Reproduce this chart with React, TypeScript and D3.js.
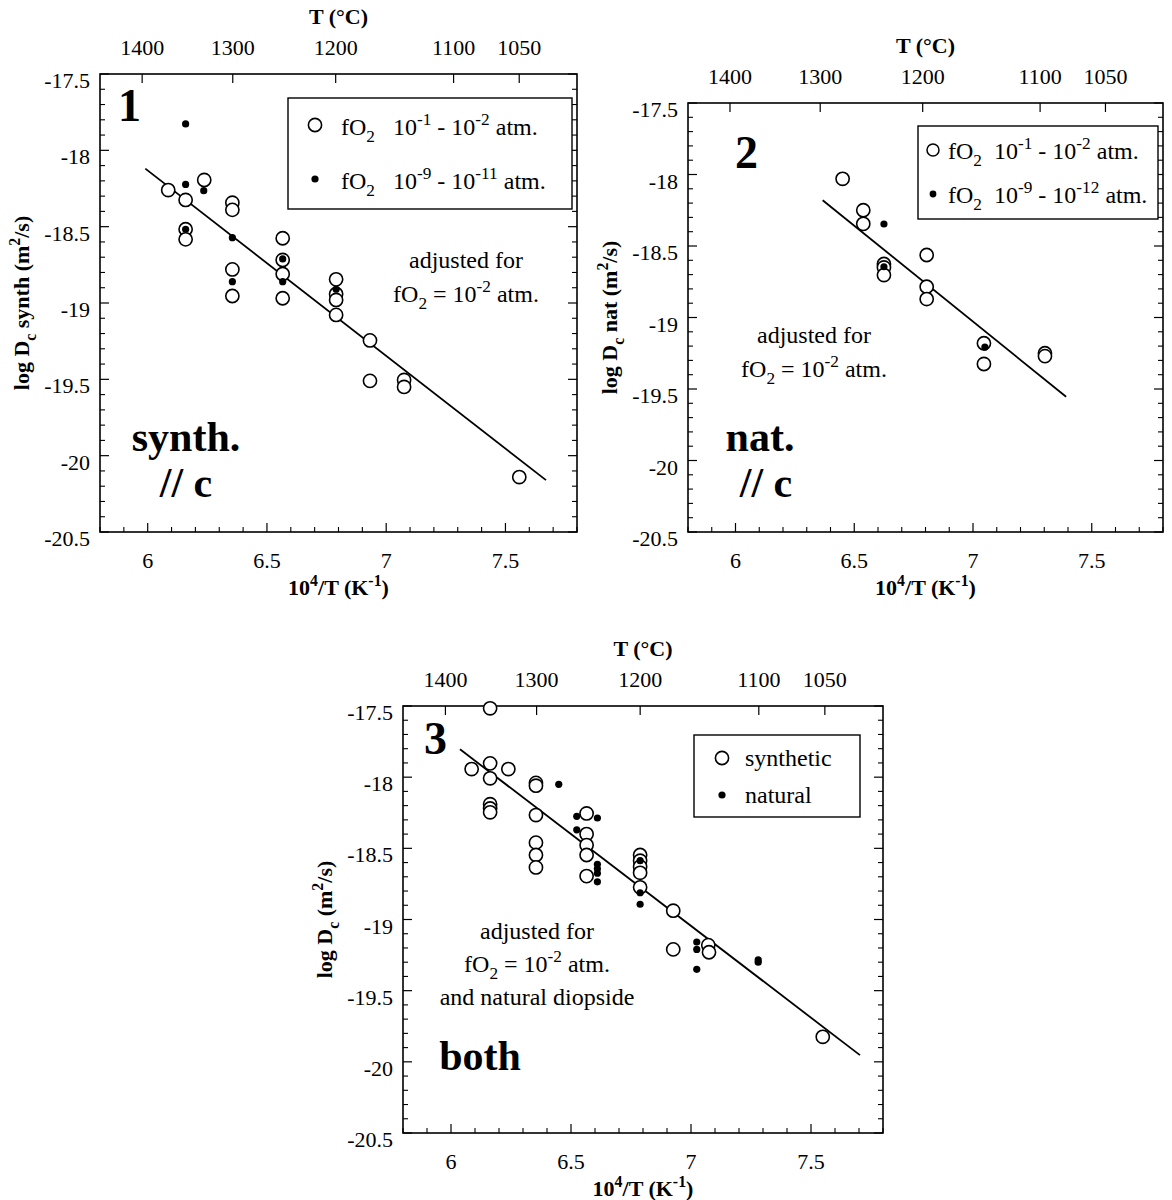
import React from 'react';
import * as d3 from 'd3';

// ---------- shared axis data ----------
const X_DOMAIN: [number, number] = [5.8, 7.8];
const Y_DOMAIN: [number, number] = [-17.5, -20.5];
const xMajorTicks = [6, 6.5, 7, 7.5];
const xTickLabels = ['6', '6.5', '7', '7.5'];
const yMajorTicks = [-17.5, -18, -18.5, -19, -19.5, -20, -20.5];
const yTickLabels = ['-17.5', '-18', '-18.5', '-19', '-19.5', '-20', '-20.5'];
const tempTicksC = [1400, 1300, 1200, 1100, 1050];

// ---------- panel 1 : synthetic // c ----------
const synthOxidized: [number, number][] = [
  [6.086, -18.26], [6.159, -18.325], [6.237, -18.194], [6.159, -18.517], [6.159, -18.583],
  [6.355, -18.343], [6.355, -18.39], [6.355, -18.78], [6.355, -18.954],
  [6.566, -18.576], [6.566, -18.718], [6.566, -18.81], [6.566, -18.969],
  [6.79, -18.845], [6.79, -18.941], [6.79, -18.98], [6.79, -19.078],
  [6.932, -19.245], [6.932, -19.51], [7.075, -19.504], [7.075, -19.55], [7.558, -20.14],
];
const synthReduced: [number, number][] = [
  [6.159, -17.827], [6.159, -18.223], [6.235, -18.264], [6.159, -18.517],
  [6.355, -18.572], [6.355, -18.86], [6.566, -18.711], [6.566, -18.86], [6.79, -18.91],
];
const synthFit: [number, number][] = [[5.99, -18.12], [7.67, -20.16]];

// ---------- panel 2 : natural // c ----------
const natOxidized: [number, number][] = [
  [6.451, -18.03], [6.538, -18.25], [6.538, -18.345],
  [6.625, -18.626], [6.625, -18.65], [6.625, -18.703],
  [6.805, -18.563], [6.805, -18.785], [6.805, -18.871],
  [7.046, -19.18], [7.046, -19.325], [7.303, -19.25], [7.303, -19.27],
];
const natReduced: [number, number][] = [
  [6.625, -18.346], [6.625, -18.645], [7.05, -19.207],
];
const natFit: [number, number][] = [[6.367, -18.18], [7.392, -19.554]];

// ---------- panel 3 : both ----------
const bothSynthetic: [number, number][] = [
  [6.163, -17.516], [6.086, -17.943], [6.163, -17.903], [6.163, -18.008], [6.239, -17.943],
  [6.163, -18.19], [6.163, -18.22], [6.163, -18.247],
  [6.354, -18.04], [6.354, -18.06], [6.354, -18.266], [6.354, -18.46], [6.354, -18.547], [6.354, -18.634],
  [6.565, -18.255], [6.565, -18.4], [6.565, -18.477], [6.565, -18.547], [6.565, -18.695],
  [6.788, -18.547], [6.788, -18.587], [6.788, -18.629], [6.788, -18.672], [6.788, -18.774],
  [6.926, -18.938], [6.926, -19.21], [7.072, -19.18], [7.075, -19.23], [7.549, -19.824],
];
const bothNatural: [number, number][] = [
  [6.449, -18.05], [6.524, -18.275], [6.524, -18.37], [6.61, -18.287],
  [6.61, -18.612], [6.61, -18.644], [6.61, -18.675], [6.61, -18.735],
  [6.788, -18.587], [6.788, -18.812], [6.788, -18.893],
  [7.024, -19.158], [7.024, -19.21], [7.024, -19.35], [7.28, -19.284], [7.28, -19.3],
];
const bothFit: [number, number][] = [[6.0375, -17.804], [7.704, -19.953]];

// ---------- rich text helper ----------
type Seg = [string, ('n' | 'sub' | 'sup')?];
const FONT = '"Liberation Serif", "DejaVu Serif", Times, serif';

function Rich(props: {
  x: number; y: number; segs: Seg[]; size: number; weight?: string | number;
  anchor?: string; transform?: string;
}) {
  const { x, y, segs, size, weight, anchor, transform } = props;
  let cur = 0;
  const kids = segs.map((s, i) => {
    const kind = s[1] || 'n';
    const target = kind === 'sup' ? -size * 0.42 : kind === 'sub' ? size * 0.3 : 0;
    const dy = target - cur;
    cur = target;
    const fs = kind === 'n' ? size : size * 0.72;
    return (
      <tspan key={i} dy={dy} fontSize={fs}>{s[0]}</tspan>
    );
  });
  return (
    <text x={x} y={y} fontFamily={FONT} fontSize={size} fontWeight={weight || 'normal'}
      textAnchor={anchor || 'start'} transform={transform} style={{ whiteSpace: 'pre' }} fill="#000">
      {kids}
    </text>
  );
}

type Geo = { left: number; right: number; top: number; bottom: number };

function Panel(props: {
  g: Geo; open: [number, number][]; filled: [number, number][]; fit: [number, number][];
  ytitle: Seg[]; children?: React.ReactNode;
}) {
  const { g, open, filled, fit, ytitle } = props;
  const x = d3.scaleLinear().domain(X_DOMAIN).range([g.left, g.right]);
  const y = d3.scaleLinear().domain(Y_DOMAIN).range([g.top, g.bottom]);
  const minorX = d3.range(58, 79).map((v) => v / 10).filter((v) => !xMajorTicks.some((m) => Math.abs(m - v) < 1e-6));
  const minorY = d3.range(175, 206).map((v) => -v / 10).filter((v) => !yMajorTicks.some((m) => Math.abs(m - v) < 1e-6));
  const line = d3.line<[number, number]>().x((d) => x(d[0])).y((d) => y(d[1]));
  const MAJ = 9, MIN = 5;
  const midX = (g.left + g.right) / 2;
  const midY = (g.top + g.bottom) / 2;
  return (
    <g>
      {/* top temperature axis */}
      <text x={midX} y={g.top - 50} fontFamily={FONT} fontWeight="bold" fontSize={22} textAnchor="middle">T (°C)</text>
      {tempTicksC.map((t) => {
        const xv = x(1e4 / (t + 273.15));
        return (
          <g key={'t' + t}>
            <line x1={xv} x2={xv} y1={g.top} y2={g.top + MAJ} stroke="#000" strokeWidth={1.2} />
            <text x={xv} y={g.top - 19} fontFamily={FONT} fontSize={22} textAnchor="middle">{t}</text>
          </g>
        );
      })}
      {/* bottom ticks */}
      {minorX.map((v) => (
        <line key={'mx' + v} x1={x(v)} x2={x(v)} y1={g.bottom} y2={g.bottom - MIN} stroke="#000" strokeWidth={1.1} />
      ))}
      {xMajorTicks.map((v, i) => (
        <g key={'Mx' + v}>
          <line x1={x(v)} x2={x(v)} y1={g.bottom} y2={g.bottom - MAJ} stroke="#000" strokeWidth={1.2} />
          <text x={x(v)} y={g.bottom + 36} fontFamily={FONT} fontSize={22} textAnchor="middle">{xTickLabels[i]}</text>
        </g>
      ))}
      <Rich x={midX} y={g.bottom + 63} size={22} weight="bold" anchor="middle"
        segs={[['10'], ['4', 'sup'], ['/T (K'], ['-1', 'sup'], [')']]} />
      {/* left / right ticks */}
      {minorY.map((v) => (
        <g key={'my' + v}>
          <line x1={g.left} x2={g.left + MIN} y1={y(v)} y2={y(v)} stroke="#000" strokeWidth={1.1} />
          <line x1={g.right} x2={g.right - MIN} y1={y(v)} y2={y(v)} stroke="#000" strokeWidth={1.1} />
        </g>
      ))}
      {yMajorTicks.map((v, i) => (
        <g key={'My' + v}>
          <line x1={g.left} x2={g.left + MAJ} y1={y(v)} y2={y(v)} stroke="#000" strokeWidth={1.2} />
          <line x1={g.right} x2={g.right - MAJ} y1={y(v)} y2={y(v)} stroke="#000" strokeWidth={1.2} />
          <text x={g.left - 10} y={y(v) + 14} fontFamily={FONT} fontSize={22} textAnchor="end">{yTickLabels[i]}</text>
        </g>
      ))}
      <Rich x={g.left - 71} y={midY} size={22} weight="bold" anchor="middle"
        transform={`rotate(-90 ${g.left - 71} ${midY})`} segs={ytitle} />
      {/* frame */}
      <rect x={g.left} y={g.top} width={g.right - g.left} height={g.bottom - g.top} fill="none" stroke="#000" strokeWidth={1.6} />
      {/* fit line */}
      <path d={line(fit) || ''} fill="none" stroke="#000" strokeWidth={1.8} />
      {/* points */}
      {open.map((d, i) => (
        <circle key={'o' + i} cx={x(d[0])} cy={y(d[1])} r={6.6} fill="#fff" stroke="#000" strokeWidth={1.6} />
      ))}
      {filled.map((d, i) => (
        <circle key={'f' + i} cx={x(d[0])} cy={y(d[1])} r={3.6} fill="#000" />
      ))}
      {props.children}
    </g>
  );
}

const G1: Geo = { left: 100, right: 577, top: 74, bottom: 532 };
const G2: Geo = { left: 688, right: 1163, top: 103, bottom: 532 };
const G3: Geo = { left: 403, right: 883, top: 706, bottom: 1133 };

const GAP1 = '\u2002 ';

export default function App() {
  return (
    <svg width={1172} height={1200} style={{ position: 'absolute', left: 0, top: 0, background: '#fff' }}>
      <rect x={0} y={0} width={1172} height={1200} fill="#fff" />
      {/* Panel 1 */}
      <Panel g={G1} open={synthOxidized} filled={synthReduced} fit={synthFit}
        ytitle={[['log D'], ['c', 'sub'], [' synth (m'], ['2', 'sup'], ['/s)']]}>
        <rect x={288} y={98} width={284} height={111} fill="#fff" stroke="#000" strokeWidth={1.4} />
        <circle cx={315} cy={125} r={6.6} fill="#fff" stroke="#000" strokeWidth={1.6} />
        <Rich x={341} y={135} size={24} segs={[['fO'], ['2', 'sub'], [GAP1 + '10'], ['-1', 'sup'], [' - 10'], ['-2', 'sup'], [' atm.']]} />
        <circle cx={315} cy={179} r={3.6} fill="#000" />
        <Rich x={341} y={189} size={24} segs={[['fO'], ['2', 'sub'], [GAP1 + '10'], ['-9', 'sup'], [' - 10'], ['-11', 'sup'], [' atm.']]} />
        <text x={466} y={268} fontFamily={FONT} fontSize={24} textAnchor="middle">adjusted for</text>
        <Rich x={466} y={302} size={24} anchor="middle" segs={[['fO'], ['2', 'sub'], [' = 10'], ['-2', 'sup'], [' atm.']]} />
        <text x={118} y={121} fontFamily={FONT} fontSize={46} fontWeight="bold">1</text>
        <text x={186} y={451} fontFamily={FONT} fontSize={42} fontWeight="bold" textAnchor="middle">synth.</text>
        <text x={186} y={497} fontFamily={FONT} fontSize={42} fontWeight="bold" textAnchor="middle">// c</text>
      </Panel>
      {/* Panel 2 */}
      <Panel g={G2} open={natOxidized} filled={natReduced} fit={natFit}
        ytitle={[['log D'], ['c', 'sub'], [' nat (m'], ['2', 'sup'], ['/s)']]}>
        <rect x={918} y={126} width={240} height={93} fill="#fff" stroke="#000" strokeWidth={1.4} />
        <circle cx={933} cy={150} r={6} fill="#fff" stroke="#000" strokeWidth={1.5} />
        <Rich x={948} y={159} size={24} segs={[['fO'], ['2', 'sub'], ['  10'], ['-1', 'sup'], [' - 10'], ['-2', 'sup'], [' atm.']]} />
        <circle cx={933} cy={194} r={3.4} fill="#000" />
        <Rich x={948} y={203} size={24} segs={[['fO'], ['2', 'sub'], ['  10'], ['-9', 'sup'], [' - 10'], ['-12', 'sup'], [' atm.']]} />
        <text x={814} y={343} fontFamily={FONT} fontSize={24} textAnchor="middle">adjusted for</text>
        <Rich x={814} y={377} size={24} anchor="middle" segs={[['fO'], ['2', 'sub'], [' = 10'], ['-2', 'sup'], [' atm.']]} />
        <text x={735} y={168} fontFamily={FONT} fontSize={46} fontWeight="bold">2</text>
        <text x={760} y={451} fontFamily={FONT} fontSize={42} fontWeight="bold" textAnchor="middle">nat.</text>
        <text x={766} y={497} fontFamily={FONT} fontSize={42} fontWeight="bold" textAnchor="middle">// c</text>
      </Panel>
      {/* Panel 3 */}
      <Panel g={G3} open={bothSynthetic} filled={bothNatural} fit={bothFit}
        ytitle={[['log D'], ['c', 'sub'], [' (m'], ['2', 'sup'], ['/s)']]}>
        <rect x={694} y={735} width={166} height={82} fill="#fff" stroke="#000" strokeWidth={1.4} />
        <circle cx={722} cy={758} r={6.6} fill="#fff" stroke="#000" strokeWidth={1.6} />
        <text x={745} y={766} fontFamily={FONT} fontSize={24}>synthetic</text>
        <circle cx={722} cy={795} r={3.6} fill="#000" />
        <text x={745} y={803} fontFamily={FONT} fontSize={24}>natural</text>
        <text x={537} y={939} fontFamily={FONT} fontSize={24} textAnchor="middle">adjusted for</text>
        <Rich x={537} y={972} size={24} anchor="middle" segs={[['fO'], ['2', 'sub'], [' = 10'], ['-2', 'sup'], [' atm.']]} />
        <text x={537} y={1005} fontFamily={FONT} fontSize={24} textAnchor="middle">and natural diopside</text>
        <text x={424} y={754} fontFamily={FONT} fontSize={46} fontWeight="bold">3</text>
        <text x={480} y={1070} fontFamily={FONT} fontSize={42} fontWeight="bold" textAnchor="middle">both</text>
      </Panel>
    </svg>
  );
}
